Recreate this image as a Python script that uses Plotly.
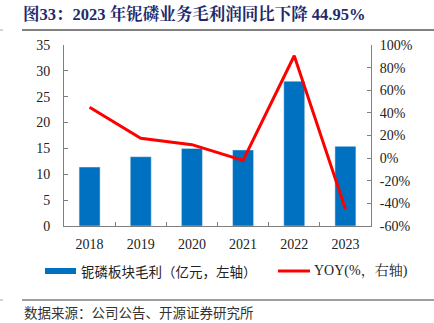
import plotly.graph_objects as go

years = ["2018", "2019", "2020", "2021", "2022", "2023"]
gross_profit = [11.4, 13.4, 15.0, 14.7, 28.0, 15.4]
yoy_pct = [44.9, 17.5, 11.9, -2.0, 90.5, -44.95]

left_ticks = [0, 5, 10, 15, 20, 25, 30, 35]
right_ticks = [-60, -40, -20, 0, 20, 40, 60, 80, 100]

W, H = 434, 323
L, R, T, B = 64, 371, 45, 226

def px(x):
    return (x - L) / (R - L)

def py(y):
    return (B - y) / (B - T)

SERIF = "Liberation Serif, Times New Roman, Noto Serif CJK SC, Noto Sans CJK SC, serif"
CJK = "Noto Sans CJK SC, Liberation Serif, serif"

fig = go.Figure()
fig.add_trace(go.Bar(x=years, y=gross_profit, marker_color="#0070C0", width=0.41,
                     name="铌磷板块毛利（亿元，左轴）", showlegend=False))
fig.add_trace(go.Scatter(x=years, y=yoy_pct, yaxis="y2", mode="lines",
                         line=dict(color="#FF0000", width=3),
                         name="YOY(%，右轴)", showlegend=False))

axis_common = dict(showline=True, linecolor="#7f7f7f", linewidth=1, ticks="inside",
                   ticklen=4, tickcolor="#7f7f7f", showgrid=False, zeroline=False,
                   tickfont=dict(family=SERIF, size=14, color="#222"))

fig.update_layout(
    width=W, height=H, margin=dict(l=L, r=W - R, t=T, b=H - B),
    paper_bgcolor="white", plot_bgcolor="white",
    xaxis=dict(**axis_common, tickson="boundaries", ticklabelstandoff=5),
    yaxis=dict(**axis_common, range=[0, 35], tickvals=left_ticks, ticklabelstandoff=10),
    yaxis2=dict(**axis_common, overlaying="y", side="right", range=[-60, 100],
                tickvals=right_ticks, ticktext=[f"{v}%" for v in right_ticks],
                ticklabelstandoff=5),
    bargap=0.59,
)

shapes = [
    dict(type="line", xref="paper", yref="paper", x0=px(22), x1=px(434), y0=py(30), y1=py(30),
         line=dict(color="#595959", width=1.5)),
    dict(type="line", xref="paper", yref="paper", x0=px(22), x1=px(434), y0=py(300), y1=py(300),
         line=dict(color="#7f7f7f", width=1.5)),
    dict(type="line", xref="paper", yref="paper", x0=px(0), x1=px(3), y0=py(30), y1=py(30),
         line=dict(color="#aaaaaa", width=1)),
    dict(type="line", xref="paper", yref="paper", x0=px(0), x1=px(3), y0=py(300), y1=py(300),
         line=dict(color="#aaaaaa", width=1)),
    dict(type="rect", xref="paper", yref="paper", x0=px(45), x1=px(76), y0=py(274), y1=py(268),
         fillcolor="#0070C0", line=dict(width=0)),
    dict(type="line", xref="paper", yref="paper", x0=px(278), x1=px(310), y0=py(271), y1=py(271),
         line=dict(color="#FF0000", width=3)),
]

annotations = [
    dict(text="<b>图33：2023 年铌磷业务毛利润同比下降 44.95%</b>", xref="paper", yref="paper",
         x=px(21), y=py(14), xanchor="left", yanchor="middle", showarrow=False,
         font=dict(family=SERIF, size=16.5, color="#1F2A6B")),
    dict(text="铌磷板块毛利（亿元，左轴）", xref="paper", yref="paper",
         x=px(79), y=py(271), xanchor="left", yanchor="middle", showarrow=False,
         font=dict(family=CJK, size=13.5, color="#222")),
    dict(text="YOY(%，右轴)", xref="paper", yref="paper",
         x=px(312), y=py(271), xanchor="left", yanchor="middle", showarrow=False,
         font=dict(family=SERIF, size=14, color="#222")),
    dict(text="数据来源：公司公告、开源证券研究所", xref="paper", yref="paper",
         x=px(22), y=py(312), xanchor="left", yanchor="middle", showarrow=False,
         font=dict(family=CJK, size=13.5, color="#333")),
]

fig.update_layout(shapes=shapes, annotations=annotations)
fig.write_html("out.html")
